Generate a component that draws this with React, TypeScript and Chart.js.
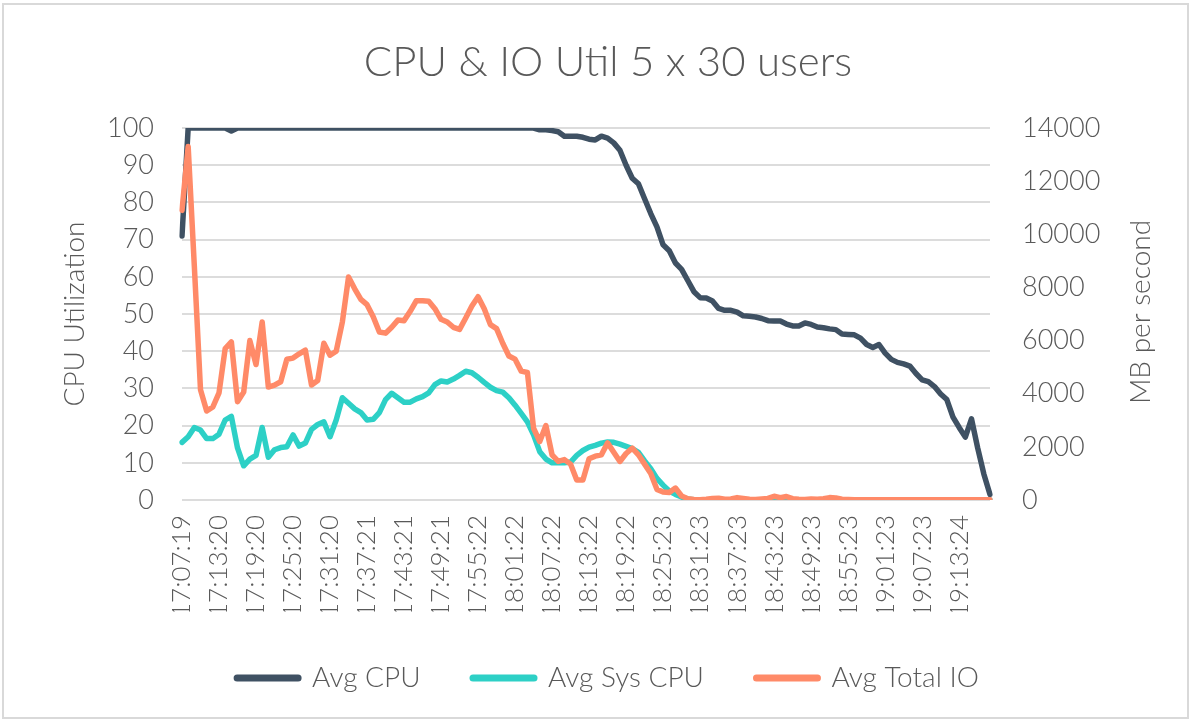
import { useEffect, useRef } from "react";
import { Chart, registerables } from "chart.js";

Chart.register(...registerables);

const TITLE = "CPU & IO Util 5 x 30 users";
const LEFT_AXIS_TITLE = "CPU Utilization";
const RIGHT_AXIS_TITLE = "MB per second";
const SERIES_NAMES = ["Avg CPU", "Avg Sys CPU", "Avg Total IO"];
const SERIES_COLORS = ["#3F5163", "#2DD0C6", "#FF8A68"];

// one tick label every 6 samples
const TICK_LABELS = [
  "17:07:19", "17:13:20", "17:19:20", "17:25:20", "17:31:20", "17:37:21",
  "17:43:21", "17:49:21", "17:55:22", "18:01:22", "18:07:22", "18:13:22",
  "18:19:22", "18:25:23", "18:31:23", "18:37:23", "18:43:23", "18:49:23",
  "18:55:23", "19:01:23", "19:07:23", "19:13:24",
];
const TICK_EVERY = 6;

const AVG_CPU = [
  71, 100, 100, 100, 100, 100, 100, 100, 99.2, 100,
  100, 100, 100, 100, 100, 100, 100, 100, 100, 100,
  100, 100, 100, 100, 100, 100, 100, 100, 100, 100,
  100, 100, 100, 100, 100, 100, 100, 100, 100, 100,
  100, 100, 100, 100, 100, 100, 100, 100, 100, 100,
  100, 100, 100, 100, 100, 100, 100, 100, 99.5, 99.5,
  99.3, 99, 97.8, 97.8, 97.8, 97.5, 97, 96.8, 97.8, 97.3,
  96, 94, 90, 86.5, 85, 81, 77, 73.4, 68.6, 67,
  63.7, 62, 59, 56, 54.4, 54.3, 53.5, 51.5, 51, 51,
  50.5, 49.5, 49.4, 49.2, 48.8, 48.2, 48.1, 48.1, 47.3, 46.8,
  46.8, 47.6, 47.2, 46.5, 46.3, 46, 45.8, 44.6, 44.5, 44.4,
  43.5, 41.8, 41, 41.8, 39.5, 37.8, 37, 36.6, 36, 34,
  32.3, 31.8, 30.5, 28.5, 27, 22.3, 19.5, 16.9, 21.8, 14,
  7, 1.5,
];

const AVG_SYS_CPU = [
  15.5, 17, 19.5, 18.8, 16.5, 16.5, 17.7, 21.5, 22.5, 14,
  9.2, 11, 12, 19.5, 11.5, 13.5, 14.1, 14.3, 17.5, 14.5,
  15.3, 19, 20.3, 21, 17, 21.5, 27.5, 26, 24.5, 23.5,
  21.5, 21.7, 23.5, 27, 28.7, 27.5, 26.3, 26.3, 27.2, 27.8,
  28.8, 31, 32, 31.7, 32.5, 33.5, 34.6, 34.2, 33, 31.6,
  30.3, 29.4, 29, 27.5, 25.5, 23.3, 21, 17.5, 13, 11,
  10, 10, 10, 10.2, 12, 13.3, 14.2, 14.7, 15.3, 15.6,
  15.5, 15, 14.4, 13.8, 12.8, 10.5, 8.4, 5.8, 4, 2.4,
  1.5, 0.8, 0.3, 0.1, 0, 0, 0.2, 0.2, 0, 0,
  0.2, 0, 0, 0, 0, 0, 0.5, 0.2, 0.5, 0,
  0, 0, 0, 0, 0, 0.2, 0.2, 0, 0, 0,
  0, 0, 0, 0, 0, 0, 0, 0, 0, 0,
  0, 0, 0, 0, 0, 0, 0, 0, 0, 0,
  0, 0,
];

const AVG_TOTAL_IO = [
  10900, 13300, 8800, 4150, 3350, 3500, 4030, 5700, 5950, 3700,
  4060, 6000, 5100, 6700, 4250, 4320, 4450, 5300, 5340, 5500,
  5640, 4330, 4500, 5900, 5450, 5600, 6700, 8390, 7950, 7550,
  7350, 6900, 6320, 6280, 6500, 6770, 6750, 7100, 7500, 7500,
  7480, 7200, 6800, 6700, 6500, 6420, 6850, 7300, 7650, 7200,
  6600, 6450, 5900, 5420, 5300, 4850, 4800, 2700, 2200, 2800,
  1700, 1450, 1520, 1350, 750, 750, 1550, 1650, 1700, 2150,
  1800, 1450, 1750, 1950, 1700, 1350, 1000, 400, 300, 280,
  450, 150, 50, 20, 10, 30, 60, 70, 30, 40,
  90, 60, 30, 20, 40, 60, 140, 90, 130, 50,
  30, 20, 40, 30, 50, 90, 80, 30, 20, 10,
  10, 10, 10, 10, 10, 10, 10, 10, 10, 10,
  10, 10, 10, 10, 10, 10, 10, 10, 10, 10,
  10, 10,
];

const CPU_MAX = 100;
const CPU_STEP = 10;
const IO_MAX = 14000;
const IO_STEP = 2000;

const FONT_FAMILY = "Lato, 'Open Sans', sans-serif";
const TEXT_COLOR = "#595959";
const GRID_COLOR = "#dcdcdc";
const LIGHT = "300" as any;

const rightTitlePlugin = {
  id: "rightAxisTitle",
  afterDraw(chart: any) {
    const { ctx, chartArea } = chart;
    const s = chart.scales.y1;
    ctx.save();
    ctx.translate(s.right - 50, (chartArea.top + chartArea.bottom) / 2 - 2);
    ctx.rotate(-Math.PI / 2);
    ctx.font = `300 28px ${FONT_FAMILY}`;
    ctx.fillStyle = TEXT_COLOR;
    ctx.textAlign = "center";
    ctx.textBaseline = "middle";
    ctx.fillText(RIGHT_AXIS_TITLE, 0, 0);
    ctx.restore();
  },
};

export default function App() {
  const canvasRef = useRef<HTMLCanvasElement | null>(null);

  useEffect(() => {
    if (!canvasRef.current) return;
    const labels = AVG_CPU.map((_, i) =>
      i % TICK_EVERY === 0 ? TICK_LABELS[i / TICK_EVERY] ?? "" : ""
    );
    const seriesValues = [AVG_CPU, AVG_SYS_CPU, AVG_TOTAL_IO];
    const axes = ["y", "y", "y1"];
    const orders = [3, 2, 1];
    const chart = new Chart(canvasRef.current, {
      type: "line",
      data: {
        labels,
        datasets: seriesValues.map((values, k) => ({
          label: SERIES_NAMES[k],
          data: values,
          yAxisID: axes[k],
          borderColor: SERIES_COLORS[k],
          backgroundColor: SERIES_COLORS[k],
          borderWidth: 5.5,
          pointRadius: 0,
          pointHoverRadius: 0,
          tension: 0,
          borderJoinStyle: "round" as const,
          borderCapStyle: "round" as const,
          order: orders[k],
        })),
      },
      options: {
        responsive: false,
        animation: false,
        layout: { padding: { top: 0, left: 25, right: 0, bottom: 19 } },
        plugins: {
          title: {
            display: true,
            text: TITLE,
            color: TEXT_COLOR,
            font: { family: FONT_FAMILY, size: 42, weight: LIGHT, lineHeight: 1.2 },
            padding: { top: 36.8, bottom: 40.8 },
          },
          tooltip: { enabled: false },
          legend: {
            display: true,
            position: "bottom",
            labels: {
              color: TEXT_COLOR,
              font: { family: FONT_FAMILY, size: 28, weight: LIGHT },
              usePointStyle: true,
              pointStyleWidth: 61,
              padding: 52.5,
              generateLabels: (c: any) =>
                c.data.datasets.map((ds: any, i: number) => ({
                  text: ds.label,
                  fillStyle: ds.borderColor,
                  strokeStyle: ds.borderColor,
                  lineWidth: 7,
                  lineCap: "round",
                  pointStyle: "line",
                  fontColor: TEXT_COLOR,
                  hidden: false,
                  datasetIndex: i,
                })),
            },
          },
        },
        scales: {
          x: {
            grid: { display: false, drawTicks: false },
            border: { display: false },
            ticks: {
              autoSkip: false,
              minRotation: 90,
              maxRotation: 90,
              padding: 15,
              color: TEXT_COLOR,
              font: { family: FONT_FAMILY, size: 26, weight: LIGHT },
            },
            afterFit: (s: any) => {
              s.height = 111.5;
            },
          },
          y: {
            position: "left",
            min: 0,
            max: CPU_MAX,
            ticks: {
              stepSize: CPU_STEP,
              padding: 28,
              color: TEXT_COLOR,
              font: { family: FONT_FAMILY, size: 27, weight: LIGHT },
            },
            grid: { color: GRID_COLOR, lineWidth: 2, drawTicks: false },
            border: { display: false },
            title: {
              display: true,
              text: LEFT_AXIS_TITLE,
              color: TEXT_COLOR,
              font: { family: FONT_FAMILY, size: 28, weight: LIGHT, lineHeight: 1.2 },
              padding: { top: 33.2 },
            },
            afterFit: (s: any) => {
              s.width = 157;
            },
          },
          y1: {
            position: "right",
            min: 0,
            max: IO_MAX,
            ticks: {
              stepSize: IO_STEP,
              padding: 32,
              color: TEXT_COLOR,
              font: { family: FONT_FAMILY, size: 27, weight: LIGHT },
              callback: (v: any) => String(v),
            },
            grid: { display: false, drawTicks: false },
            border: { display: false },
            afterFit: (s: any) => {
              s.width = 201;
            },
          },
        },
      },
      plugins: [rightTitlePlugin],
    });
    return () => chart.destroy();
  }, []);

  return (
    <div style={{ position: "absolute", left: 0, top: 0, width: 1191, height: 721, background: "#fff" }}>
      <div
        style={{
          position: "absolute",
          left: 2,
          top: 3,
          width: 1183,
          height: 712,
          border: "2px solid #d9d9d9",
          boxSizing: "content-box",
        }}
      />
      <canvas ref={canvasRef} width={1191} height={721} style={{ position: "absolute", left: 0, top: 0 }} />
    </div>
  );
}
